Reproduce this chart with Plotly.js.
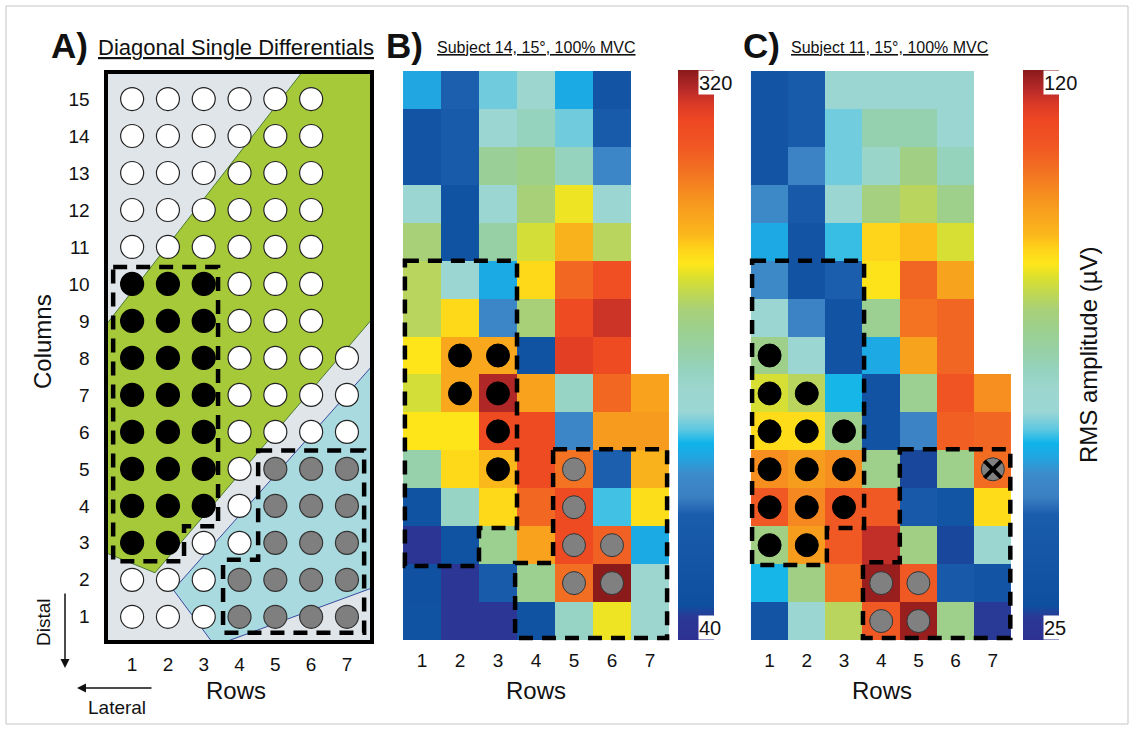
<!DOCTYPE html>
<html>
<head>
<meta charset="utf-8">
<script src="https://cdn.plot.ly/plotly-3.0.1.min.js"></script>
<style>html,body{margin:0;padding:0;background:#fff;}#chart{width:1134px;height:730px;}</style>
</head>
<body>
<div id="chart"></div>
<script>
// ---------- DATA ----------
const rowNumbers = [1, 2, 3, 4, 5, 6, 7];                       // x axis ("Rows")
const columnNumbers = [15, 14, 13, 12, 11, 10, 9, 8, 7, 6, 5, 4, 3, 2, 1]; // y axis ("Columns")

// Panel A electrode layout: W = unused, B = proximal region, G = distal region, '-' = none
const electrodeLayout = [
  'WWWWWW-', 'WWWWWW-', 'WWWWWW-', 'WWWWWW-', 'WWWWWW-',
  'BBBWWW-', 'BBBWWW-', 'BBBWWWW', 'BBBWWWW', 'BBBWWWW',
  'BBBWGGG', 'BBBWGGG', 'BBWWGGG', 'WWWGGGG', 'WWWGGGG'
];

// Panel B: Subject 14, RMS amplitude (µV), rows listed from column 15 down to column 1
const subject14RMS = [
  [130, 102, 146, 163, 132, 74, null],
  [74, 96, 158, 172, 146, 96, null],
  [74, 96, 188, 194, 172, 116, null],
  [155, 68, 158, 202, 222, 155, null],
  [202, 68, 183, 216, 242, 208, null],
  [208, 158, 132, 230, 275, 289, null],
  [208, 230, 116, 202, 292, 306, null],
  [225, 247, 247, 68, 300, 292, null],
  [216, 247, 312, 250, 169, 275, 250],
  [225, 225, 292, 292, 116, 253, 253],
  [180, 230, 239, 292, 270, 102, 242],
  [68, 169, 230, 275, 292, 141, 228],
  [46, 68, 191, 250, 292, 278, 132],
  [62, 48, 96, 191, 272, 320, 163],
  [68, 48, 48, 68, 169, 222, 163]
];
const subject14Range = [40, 320];

// Panel C: Subject 11
const subject11RMS = [
  [36, 44, 65, 65, 65, 65, null],
  [36, 44, 61, 72, 72, 65, null],
  [36, 50, 61, 68, 78, 70, null],
  [52, 42, 64, 79, 82, 77, null],
  [56, 36, 59, 90, 92, 85, null],
  [52, 35, 46, 88, 105, 96, null],
  [64, 50, 35, 76, 103, 105, null],
  [77, 64, 35, 56, 96, 105, null],
  [85, 82, 58, 35, 76, 108, 99],
  [89, 89, 77, 35, 50, 106, 105],
  [99, 97, 99, 77, 30, 77, 104],
  [107, 100, 107, 107, 42, 37, 89],
  [78, 97, 107, 116, 78, 30, 66],
  [58, 78, 103, 119, 107, 42, 36],
  [36, 65, 82, 107, 119, 77, 29]
];
const subject11Range = [25, 120];

// Channels marked on the maps: [row, column]
const s14ProximalDots = [[2, 8], [3, 8], [2, 7], [3, 7], [3, 6], [3, 5]];
const s14DistalDots = [[5, 5], [5, 4], [5, 3], [5, 2], [6, 3], [6, 2]];
const s11ProximalDots = [[1, 8], [1, 7], [2, 7], [1, 6], [2, 6], [3, 6], [1, 5], [2, 5], [3, 5], [1, 4], [2, 4], [3, 4], [1, 3], [2, 3]];
const s11DistalDots = [[4, 2], [5, 2], [4, 1], [5, 1]];
const s11ExcludedDots = [[7, 5]];

// ---------- STYLE ----------
const FONT = 'Liberation Sans, Arial, sans-serif';
const W = 1134, H = 730;
const px = v => v / W;
const py = v => 1 - v / H;

const colorscale = [
  [0.00, '#2e3192'], [0.04, '#2b3895'], [0.06, '#0e4fa0'], [0.22, '#1b5dad'],
  [0.25, '#3a7fc2'], [0.29, '#3d8bc9'], [0.32, '#22a5e0'], [0.345, '#0fb4ea'],
  [0.37, '#5fc8e0'], [0.40, '#9ad6d5'], [0.44, '#9dd6cf'], [0.47, '#95d3c0'],
  [0.51, '#97d0a4'], [0.55, '#9ed08a'], [0.58, '#a9d078'], [0.61, '#c1d850'],
  [0.635, '#dbe030'], [0.66, '#fde61a'], [0.685, '#fed41a'], [0.71, '#fbb81b'],
  [0.75, '#f8a21e'], [0.79, '#f58820'], [0.83, '#f26d22'], [0.87, '#f05523'],
  [0.91, '#ef4823'], [0.94, '#db3a27'], [0.965, '#b82a2a'], [1.00, '#8b1a1a']
];

function colorbarAt(xLeft) {
  return {
    x: px(xLeft), xanchor: 'left', xref: 'paper',
    y: py(70), yanchor: 'top', yref: 'paper',
    len: 570, lenmode: 'pixels', thickness: 36, thicknessmode: 'pixels',
    xpad: 0, ypad: 0, outlinewidth: 0, showticklabels: false, ticks: ''
  };
}

const traces = [];

// Panel A electrodes
const electrodeStyles = {
  W: {color: '#ffffff', line: '#222222'},
  B: {color: '#000000', line: '#000000'},
  G: {color: '#7f7f7f', line: '#333333'}
};
Object.keys(electrodeStyles).forEach(code => {
  const xs = [], ys = [];
  electrodeLayout.forEach((line, i) => {
    line.split('').forEach((c, j) => {
      if (c === code) { xs.push(rowNumbers[j]); ys.push(columnNumbers[i]); }
    });
  });
  traces.push({
    type: 'scatter', mode: 'markers', x: xs, y: ys, xaxis: 'x', yaxis: 'y',
    marker: {size: 23, color: electrodeStyles[code].color, line: {color: electrodeStyles[code].line, width: 1.2}},
    hoverinfo: 'skip', showlegend: false
  });
});

// Heatmaps
traces.push({
  type: 'heatmap', x: rowNumbers, y: columnNumbers, z: subject14RMS, xaxis: 'x2', yaxis: 'y2',
  zmin: subject14Range[0], zmax: subject14Range[1], colorscale: colorscale, zsmooth: false,
  colorbar: colorbarAt(678), hoverongaps: false
});
traces.push({
  type: 'heatmap', x: rowNumbers, y: columnNumbers, z: subject11RMS, xaxis: 'x3', yaxis: 'y3',
  zmin: subject11Range[0], zmax: subject11Range[1], colorscale: colorscale, zsmooth: false,
  colorbar: colorbarAt(1023), hoverongaps: false
});

function dotTrace(pairs, xa, ya, fill, lineColor) {
  return {
    type: 'scatter', mode: 'markers', xaxis: xa, yaxis: ya,
    x: pairs.map(p => p[0]), y: pairs.map(p => p[1]),
    marker: {size: 23, color: fill, line: {color: lineColor, width: 1}},
    hoverinfo: 'skip', showlegend: false
  };
}
traces.push(dotTrace(s14ProximalDots, 'x2', 'y2', '#000000', '#000000'));
traces.push(dotTrace(s14DistalDots, 'x2', 'y2', '#808080', '#333333'));
traces.push(dotTrace(s11ProximalDots, 'x3', 'y3', '#000000', '#000000'));
traces.push(dotTrace(s11DistalDots, 'x3', 'y3', '#808080', '#333333'));
traces.push(dotTrace(s11ExcludedDots, 'x3', 'y3', '#808080', '#333333'));
traces.push({
  type: 'scatter', mode: 'markers', xaxis: 'x3', yaxis: 'y3',
  x: s11ExcludedDots.map(p => p[0]), y: s11ExcludedDots.map(p => p[1]),
  marker: {symbol: 'x-thin', size: 17, color: '#000', line: {color: '#000', width: 4}},
  hoverinfo: 'skip', showlegend: false
});

// ---------- LAYOUT ----------
const tickFont = {family: FONT, size: 19, color: '#111'};
function xAx(domain, range, standoff) {
  return {domain: domain, range: range, tickvals: rowNumbers, ticktext: rowNumbers.map(String),
    ticks: '', showgrid: false, zeroline: false, showline: false, tickfont: tickFont,
    ticklabelstandoff: standoff, fixedrange: true};
}
function yAx(domain, range, showLabels, standoff) {
  return {domain: domain, range: range, tickvals: columnNumbers, ticktext: columnNumbers.map(String),
    showticklabels: showLabels, ticks: '', showgrid: false, zeroline: false, showline: false,
    tickfont: tickFont, ticklabelstandoff: standoff, fixedrange: true};
}

const dash = {color: '#000', width: 4.5, dash: '14px,9px'};
function pathShape(xr, yr, pts, layer) {
  return {type: 'path', xref: xr, yref: yr, layer: layer || 'above', line: dash,
    path: 'M' + pts.map(p => p.join(',')).join(' L') + ' Z'};
}

const shapes = [
  // outer frame
  {type: 'rect', xref: 'paper', yref: 'paper', x0: px(6), x1: px(1128), y0: py(724), y1: py(6),
    line: {color: '#c4c4c4', width: 1}, layer: 'below'},
  // panel A background regions
  {type: 'rect', xref: 'x', yref: 'y', x0: 0.27, x1: 7.70, y0: 0.32, y1: 15.73,
    fillcolor: '#dfe5e8', line: {width: 0}, layer: 'below'},
  {type: 'path', xref: 'x', yref: 'y', layer: 'below', fillcolor: '#a6c93a',
    line: {color: '#4b7a34', width: 1},
    path: 'M5.75,15.73 L7.70,15.73 L7.70,9.05 L1.64,2.19 L0.27,2.73 L0.27,8.89 Z'},
  {type: 'path', xref: 'x', yref: 'y', layer: 'below', fillcolor: '#a9dadf',
    line: {color: '#3b4aa0', width: 1},
    path: 'M2.15,1.73 L7.70,7.78 L7.70,1.78 L3.60,0.32 L3.23,0.32 Z'},
  {type: 'rect', xref: 'x', yref: 'y', x0: 0.27, x1: 7.70, y0: 0.32, y1: 15.73,
    line: {color: '#000', width: 4}, layer: 'below'},
  // dashed regions
  pathShape('x', 'y', [[0.47, 10.46], [3.40, 10.46], [3.40, 3.45], [2.45, 3.45], [2.45, 2.50], [0.47, 2.50]]),
  pathShape('x', 'y', [[4.52, 5.50], [7.48, 5.50], [7.48, 0.57], [3.54, 0.57], [3.54, 2.54], [4.52, 2.54]]),
  pathShape('x2', 'y2', [[0.55, 10.50], [3.50, 10.50], [3.50, 3.45], [2.50, 3.45], [2.50, 2.45], [0.55, 2.45]]),
  pathShape('x2', 'y2', [[4.45, 5.53], [7.45, 5.53], [7.45, 0.55], [3.45, 0.55], [3.45, 2.53], [4.45, 2.53]]),
  pathShape('x3', 'y3', [[0.53, 10.50], [3.54, 10.50], [3.54, 3.45], [2.54, 3.45], [2.54, 2.48], [0.53, 2.48]]),
  pathShape('x3', 'y3', [[4.50, 5.53], [7.47, 5.53], [7.47, 0.55], [3.51, 0.55], [3.51, 2.55], [4.50, 2.55]])
];

function txt(x, y, text, size, opts) {
  return Object.assign({xref: 'paper', yref: 'paper', x: px(x), y: py(y), text: text,
    showarrow: false, font: {family: FONT, size: size, color: '#111'},
    xanchor: 'center', yanchor: 'middle'}, opts || {});
}
function cbLabel(x, y, text, anchor) {
  return {xref: 'paper', yref: 'paper', x: px(x), y: py(y), text: text, showarrow: false,
    xanchor: 'left', yanchor: anchor, bgcolor: '#ffffff', width: 44, height: 23, align: 'left',
    borderpad: 0, font: {family: FONT, size: 20, color: '#111'}};
}
const titleFont = s => ({family: FONT, size: s, color: '#111', lineposition: 'under'});

const annotations = [
  txt(49, 46, '<b>A)</b>', 35, {xanchor: 'left'}),
  txt(96, 47, 'Diagonal Single Differentials', 22, {xanchor: 'left', font: titleFont(22)}),
  txt(384, 46, '<b>B)</b>', 35, {xanchor: 'left'}),
  txt(435, 47, 'Subject 14, 15°, 100% MVC', 16, {xanchor: 'left', font: titleFont(16)}),
  txt(741, 46, '<b>C)</b>', 35, {xanchor: 'left'}),
  txt(789, 47, 'Subject 11, 15°, 100% MVC', 16, {xanchor: 'left', font: titleFont(16)}),
  txt(42, 342, 'Columns', 24, {textangle: -90}),
  txt(236, 690, 'Rows', 24),
  txt(536, 690, 'Rows', 24),
  txt(882, 690, 'Rows', 24),
  txt(1089, 355, 'RMS amplitude (µV)', 24, {textangle: -90}),
  txt(43, 622, 'Distal', 19, {textangle: -90}),
  txt(117, 707, 'Lateral', 19),
  {xref: 'paper', yref: 'paper', x: px(65), y: py(668), ax: 0, ay: -76, text: '', showarrow: true,
    arrowhead: 2, arrowsize: 1.2, arrowwidth: 1.5, arrowcolor: '#111'},
  {xref: 'paper', yref: 'paper', x: px(77), y: py(688), ax: 76, ay: 0, text: '', showarrow: true,
    arrowhead: 2, arrowsize: 1.2, arrowwidth: 1.5, arrowcolor: '#111'},
  cbLabel(698, 70, '320', 'top'),
  cbLabel(698, 640, '40', 'bottom'),
  cbLabel(1043, 70, '120', 'top'),
  cbLabel(1043, 640, '25', 'bottom')
];

const layout = {
  width: W, height: H, margin: {l: 0, r: 0, t: 0, b: 0},
  paper_bgcolor: '#ffffff', plot_bgcolor: 'rgba(0,0,0,0)',
  font: {family: FONT, color: '#111'}, showlegend: false,
  xaxis: xAx([px(101.7), px(376.3)], [0.15, 7.82], 5),
  yaxis: yAx([py(646.4), py(67.6)], [0.2, 15.85], true, 11),
  xaxis2: xAx([px(401.1), px(670.9)], [0.45, 7.55], 1),
  yaxis2: yAx([py(641.9), py(69.1)], [0.45, 15.55], false, 0),
  xaxis3: xAx([px(749.1), px(1013.3)], [0.45, 7.55], 1),
  yaxis3: yAx([py(641.9), py(69.1)], [0.45, 15.55], false, 0),
  shapes: shapes, annotations: annotations
};

Plotly.newPlot('chart', traces, layout, {staticPlot: true, displayModeBar: false});
</script>
</body>
</html>
